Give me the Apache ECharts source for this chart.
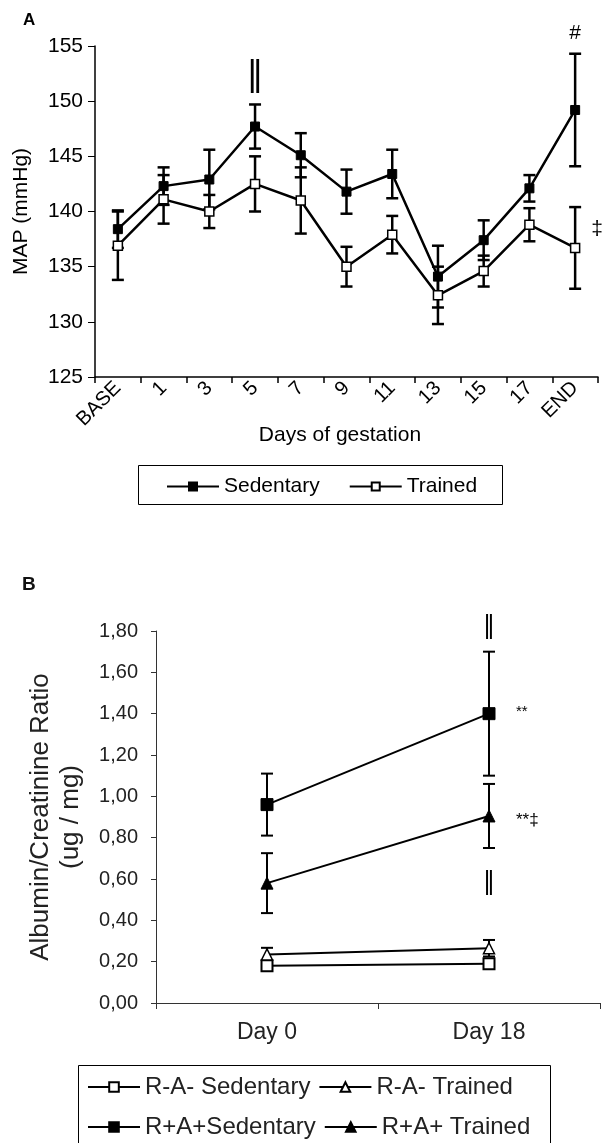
<!DOCTYPE html>
<html>
<head>
<meta charset="utf-8">
<script src="https://cdn.jsdelivr.net/npm/echarts@6/dist/echarts.min.js"></script>
<style>
html,body{margin:0;padding:0;background:#fff;}
#c{width:602px;height:1143px;}
</style>
</head>
<body>
<div id="c"></div>
<script>
// ---------- Panel A data ----------
const daysA = ['BASE','1','3','5','7','9','11','13','15','17','END'];
const sedentaryMean = [138.4,142.3,142.9,147.7,145.1,141.8,143.4,134.1,137.4,142.1,149.2];
const sedentaryErr  = [1.7,1.7,2.7,2.0,2.0,2.0,2.2,2.8,1.8,1.2,5.1];
const trainedMean   = [136.9,141.1,140.0,142.5,141.0,135.0,137.9,132.4,134.6,138.8,136.7];
const trainedErr    = [3.1,2.2,1.5,2.5,3.0,1.8,1.7,2.6,1.4,1.5,3.7];
const annotCatA   = [3, 10, 10];
const annotValA   = [152.3, 156.2, 138.4];
const annotTextA  = ['\u2016', '#', '\u2021'];

// ---------- Panel B data ----------
const daysB = ['Day 0','Day 18'];
const raNegSedMean = [0.18, 0.19];
const raNegSedErr  = [0.025, 0.02];
const raNegTrMean  = [0.235, 0.265];
const raNegTrErr   = [0.032, 0.04];
const raPosSedMean = [0.96, 1.40];
const raPosSedErr  = [0.15, 0.30];
const raPosTrMean  = [0.58, 0.905];
const raPosTrErr   = [0.145, 0.155];
const annotCatB  = [1, 1, 1, 1];
const annotValB  = [1.82, 1.41, 0.885, 0.58];
const annotTextB = ['\u2016', '**', '**\u2021', '\u2016'];

const FONT = 'Liberation Sans, Arial, sans-serif';

function errData(mean, err){ return mean.map((m,i)=>[i, m-err[i], m+err[i]]); }
function errRender(lw, cap){
  return function(params, api){
    const x = api.value(0);
    const lo = api.coord([x, api.value(1)]);
    const hi = api.coord([x, api.value(2)]);
    const st = {stroke:'#000', lineWidth:lw};
    return {type:'group', children:[
      {type:'line', shape:{x1:lo[0],y1:lo[1],x2:hi[0],y2:hi[1]}, style:st},
      {type:'line', shape:{x1:lo[0]-cap,y1:lo[1],x2:lo[0]+cap,y2:lo[1]}, style:st},
      {type:'line', shape:{x1:hi[0]-cap,y1:hi[1],x2:hi[0]+cap,y2:hi[1]}, style:st}
    ]};
  };
}
function annotRender(texts, styles){
  return function(params, api){
    const p = api.coord([api.value(0), api.value(1)]);
    const s = styles[params.dataIndex];
    return {type:'text', x:p[0] + (s.dx||0), y:p[1], style:{
      text: texts[params.dataIndex], fontSize:s.size, fontFamily:s.family||FONT,
      fill:'#000', align:s.align||'center', verticalAlign:'middle'}};
  };
}

const chart = echarts.init(document.getElementById('c'), null, {renderer:'canvas'});

const axisLineA = {show:true, lineStyle:{color:'#000', width:1.5}};
const axisLineB = {show:true, lineStyle:{color:'#333', width:1}};

const option = {
  animation:false,
  backgroundColor:'#fff',
  textStyle:{fontFamily:FONT},
  graphic:[
    {type:'text', left:23, top:12, style:{text:'A', fontSize:17, fontWeight:'bold', fontFamily:FONT, fill:'#000'}},
    {type:'text', left:22, top:575, style:{text:'B', fontSize:19, fontWeight:'bold', fontFamily:FONT, fill:'#111'}},
    {type:'rect', shape:{x:138.5, y:465.5, width:364, height:39}, style:{fill:'none', stroke:'#000', lineWidth:1}},
    {type:'rect', shape:{x:78.5, y:1065.5, width:472, height:100}, style:{fill:'none', stroke:'#000', lineWidth:1}}
  ],
  legend:[
    {data:['Sedentary','Trained'], left:166, top:476, padding:0, itemWidth:52, itemHeight:10, itemGap:29,
     textStyle:{fontSize:21, color:'#000', fontFamily:FONT}},
    {data:['R-A- Sedentary','R-A- Trained'], left:87, top:1075, padding:0, itemWidth:52, itemHeight:12, itemGap:8,
     textStyle:{fontSize:24, color:'#222', fontFamily:FONT, width:173}},
    {data:['R+A+Sedentary','R+A+ Trained'], left:87, top:1115, padding:0, itemWidth:52, itemHeight:12, itemGap:8,
     textStyle:{fontSize:24, color:'#222', fontFamily:FONT, width:173}}
  ],
  grid:[
    {left:95, right:4, top:46, bottom:766, containLabel:false},
    {left:156, right:2, top:631, bottom:140, containLabel:false}
  ],
  xAxis:[
    {type:'category', gridIndex:0, data:daysA, boundaryGap:true,
     axisLine:axisLineA, axisTick:{show:true, length:6, alignWithLabel:false, lineStyle:{color:'#000', width:1.5}},
     axisLabel:{rotate:45, fontSize:20, color:'#000', margin:8, interval:0, fontFamily:FONT},
     name:'Days of gestation', nameLocation:'middle', nameGap:48, nameMoveOverlap:false,
     nameTextStyle:{fontSize:21, color:'#000', fontFamily:FONT, padding:[0,13,0,0]}},
    {type:'category', gridIndex:1, data:daysB, boundaryGap:true,
     axisLine:axisLineB, axisTick:{show:true, length:6, lineStyle:{color:'#333'}},
     axisLabel:{fontSize:23, color:'#222', margin:18, fontFamily:FONT}}
  ],
  yAxis:[
    {type:'value', gridIndex:0, min:125, max:155, interval:5,
     axisLine:axisLineA, axisTick:{show:true, length:7, lineStyle:{color:'#000', width:1}},
     splitLine:{show:false},
     axisLabel:{fontSize:21, color:'#000', margin:12, fontFamily:FONT},
     name:'MAP (mmHg)', nameLocation:'middle', nameGap:63, nameMoveOverlap:false,
     nameTextStyle:{fontSize:21, color:'#000', fontFamily:FONT}},
    {type:'value', gridIndex:1, min:0, max:1.8, interval:0.2,
     axisLine:axisLineB, axisTick:{show:true, length:5, lineStyle:{color:'#333'}},
     splitLine:{show:false},
     axisLabel:{fontSize:20, color:'#222', margin:18, fontFamily:FONT,
       formatter:v=>v.toFixed(2).replace('.', ',')},
     name:'Albumin/Creatinine Ratio\n(ug / mg)', nameLocation:'middle', nameGap:70, nameMoveOverlap:false,
     nameTextStyle:{fontSize:26, color:'#222', fontFamily:FONT, lineHeight:30}}
  ],
  series:[
    {type:'custom', xAxisIndex:0, yAxisIndex:0, z:1, renderItem:errRender(2.5,6),
     data:errData(sedentaryMean, sedentaryErr), encode:{x:0, y:[1,2]}, silent:true},
    {type:'custom', xAxisIndex:0, yAxisIndex:0, z:1, renderItem:errRender(2.5,6),
     data:errData(trainedMean, trainedErr), encode:{x:0, y:[1,2]}, silent:true},
    {name:'Sedentary', type:'line', xAxisIndex:0, yAxisIndex:0, z:3, data:sedentaryMean,
     symbol:'rect', symbolSize:9, showAllSymbol:true,
     lineStyle:{color:'#000', width:2.5}, itemStyle:{color:'#000', borderColor:'#000', borderWidth:1}},
    {name:'Trained', type:'line', xAxisIndex:0, yAxisIndex:0, z:3, data:trainedMean,
     symbol:'rect', symbolSize:9, showAllSymbol:true,
     lineStyle:{color:'#000', width:2.5}, itemStyle:{color:'#fff', borderColor:'#000', borderWidth:1.5}},
    {type:'custom', xAxisIndex:0, yAxisIndex:0, z:4, clip:false,
     renderItem:annotRender(annotTextA, [{size:34, family:'DejaVu Sans'},{size:21},{size:21, dx:22}]),
     data:annotCatA.map((c,i)=>[c, annotValA[i]]), encode:{x:0, y:1}, silent:true},
    {type:'custom', xAxisIndex:1, yAxisIndex:1, z:1, renderItem:errRender(2,6),
     data:errData(raNegSedMean, raNegSedErr), encode:{x:0, y:[1,2]}, silent:true},
    {type:'custom', xAxisIndex:1, yAxisIndex:1, z:1, renderItem:errRender(2,6),
     data:errData(raNegTrMean, raNegTrErr), encode:{x:0, y:[1,2]}, silent:true},
    {type:'custom', xAxisIndex:1, yAxisIndex:1, z:1, renderItem:errRender(2,6),
     data:errData(raPosSedMean, raPosSedErr), encode:{x:0, y:[1,2]}, silent:true},
    {type:'custom', xAxisIndex:1, yAxisIndex:1, z:1, renderItem:errRender(2,6),
     data:errData(raPosTrMean, raPosTrErr), encode:{x:0, y:[1,2]}, silent:true},
    {name:'R-A- Sedentary', type:'line', xAxisIndex:1, yAxisIndex:1, z:3, data:raNegSedMean,
     symbol:'rect', symbolSize:11, lineStyle:{color:'#000', width:2},
     itemStyle:{color:'#fff', borderColor:'#000', borderWidth:2}},
    {name:'R-A- Trained', type:'line', xAxisIndex:1, yAxisIndex:1, z:3, data:raNegTrMean,
     symbol:'triangle', symbolSize:11, lineStyle:{color:'#000', width:2},
     itemStyle:{color:'#fff', borderColor:'#000', borderWidth:1.5}},
    {name:'R+A+Sedentary', type:'line', xAxisIndex:1, yAxisIndex:1, z:3, data:raPosSedMean,
     symbol:'rect', symbolSize:12, lineStyle:{color:'#000', width:2},
     itemStyle:{color:'#000', borderColor:'#000', borderWidth:1}},
    {name:'R+A+ Trained', type:'line', xAxisIndex:1, yAxisIndex:1, z:3, data:raPosTrMean,
     symbol:'triangle', symbolSize:12, lineStyle:{color:'#000', width:2},
     itemStyle:{color:'#000', borderColor:'#000', borderWidth:1}},
    {type:'custom', xAxisIndex:1, yAxisIndex:1, z:4, clip:false,
     renderItem:annotRender(annotTextB, [{size:24, family:'DejaVu Sans'},{size:15, dx:27, align:'left'},{size:17, dx:27, align:'left'},{size:24, family:'DejaVu Sans'}]),
     data:annotCatB.map((c,i)=>[c, annotValB[i]]), encode:{x:0, y:1}, silent:true}
  ]
};
chart.setOption(option);
</script>
</body>
</html>
